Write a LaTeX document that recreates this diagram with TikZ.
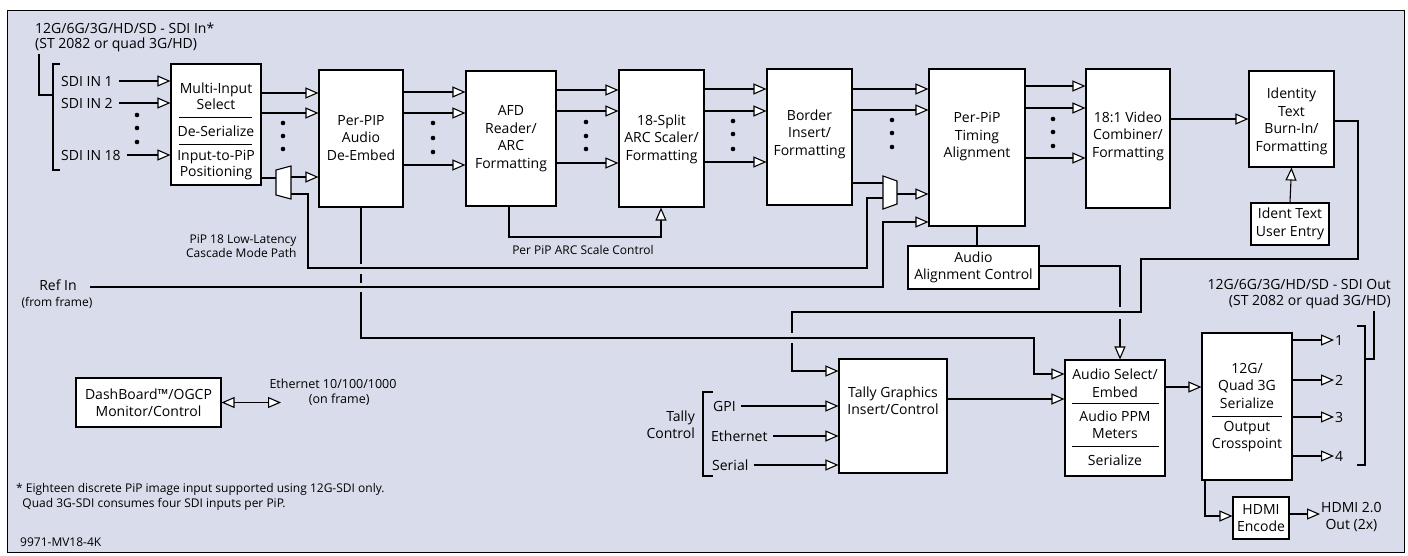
\documentclass[tikz,border=0pt]{standalone}
\usepackage{fontspec}
\setmainfont{Open Sans}
\usetikzlibrary{arrows.meta,positioning,calc}
\definecolor{bgc}{RGB}{217,220,234}
\newcommand{\fa}{\fontsize{14}{17.5}\selectfont}
\newcommand{\fb}{\fontsize{12}{14.5}\selectfont}
\tikzset{
  blk/.style={draw,fill=white,line width=1.1pt,inner sep=0pt},
  txt/.style={align=center,font=\fa,inner sep=1pt},
  lbl/.style={font=\fa,inner sep=2pt},
  arr/.style={line width=1.1pt,-{Triangle[length=13pt,width=11pt,fill=white]}},
  ln/.style={line width=1.1pt},
  sep/.style={line width=0.9pt},
}

\begin{document}
\begin{tikzpicture}[x=1pt,y=-1pt,font=\fa]
  \useasboundingbox (0,0) rectangle (1408,555);
  \draw[line width=1pt,fill=bgc] (7,10) rectangle (1404,552);

  % boxes
  \node[blk,minimum width=90pt,minimum height=121pt] (msel) at (216,124.5) {};
  \node[txt,font=\fontsize{14}{16}\selectfont] (mselA) at (216,96) {Multi-Input\\Select};
  \node[txt] (mselB) at (216,131) {De-Serialize};
  \node[txt,font=\fontsize{14}{16}\selectfont] (mselC) at (216,165) {Input-to-PiP\\Positioning};
  \draw[sep] (179,117) -- (252,117);
  \draw[sep] (179,144) -- (252,144);
  \node[blk,minimum width=84pt,minimum height=137pt] (ppip) at (361,138.5) {};
  \node[txt] (ppipT) at (361,138) {Per-PIP\\Audio\\De-Embed};
  \node[blk,minimum width=90pt,minimum height=135pt] (afd) at (511,138.5) {};
  \node[txt] (afdT) at (511,138.5) {AFD\\Reader/\\ARC\\Formatting};
  \node[blk,minimum width=85pt,minimum height=137pt] (split) at (661.5,138.5) {};
  \node[txt] (splitT) at (661.5,139) {18-Split\\ARC Scaler/\\Formatting};
  \node[blk,minimum width=85pt,minimum height=136pt] (border) at (809.5,137) {};
  \node[txt] (borderT) at (809.5,134) {Border\\Insert/\\Formatting};
  \node[blk,minimum width=96pt,minimum height=157pt] (timing) at (977,147.5) {};
  \node[txt] (timingT) at (977,137) {Per-PiP\\Timing\\Alignment};
  \node[blk,minimum width=84pt,minimum height=139pt] (comb) at (1128,138.5) {};
  \node[txt] (combT) at (1128,136) {18:1 Video\\Combiner/\\Formatting};
  \node[blk,minimum width=85pt,minimum height=96pt] (ident) at (1291.5,119) {};
  \node[txt] (identT) at (1291.5,121.5) {Identity\\Text\\Burn-In/\\Formatting};
  \node[blk,txt,minimum width=78pt,minimum height=42pt] (ientry) at (1290,224) {Ident Text\\User Entry};
  \node[blk,txt,minimum width=131pt,minimum height=43pt] (aalign) at (973.5,267.5) {Audio\\Alignment Control};
  \node[blk,minimum width=108pt,minimum height=114pt] (tally) at (893,416) {};
  \node[txt] (tallyT) at (893,400.5) {Tally Graphics\\Insert/Control};
  \node[blk,minimum width=100pt,minimum height=116pt] (asel) at (1115,418) {};
  \node[txt] (aselA) at (1115,383) {Audio Select/\\Embed};
  \node[txt] (aselB) at (1115,424.5) {Audio PPM\\Meters};
  \node[txt] (aselC) at (1115,460) {Serialize};
  \draw[sep] (1072,403) -- (1159,403);
  \draw[sep] (1072,446) -- (1159,446);
  \node[blk,minimum width=90pt,minimum height=147pt] (ser) at (1247,406.5) {};
  \node[txt] (serA) at (1247,385.5) {12G/\\Quad 3G\\Serialize};
  \node[txt] (serB) at (1247,436.5) {Output\\Crosspoint};
  \draw[sep] (1212,416) -- (1282,416);
  \node[blk,txt,minimum width=56pt,minimum height=42pt] (hdmi) at (1261,518) {HDMI\\Encode};
  \node[blk,txt,minimum width=145pt,minimum height=49pt] (dash) at (148.5,402.5) {DashBoard™/OGCP\\Monitor/Control};

  % muxes
  \draw[ln,fill=white] (276,170) -- (291,166) -- (291,199) -- (276,195) -- cycle;
  \draw[ln,fill=white] (883,176) -- (897,181) -- (897,204) -- (883,209) -- cycle;

  % sdi inputs
  \node[lbl,anchor=west,align=left,font=\fontsize{14}{15}\selectfont] (sdiin) at (33,37.5) {12G/6G/3G/HD/SD - SDI In*\\(ST 2082 or quad 3G/HD)};
  \draw[ln] (sdiin.south -| 39,0) -- (39,95) -- (53,95);
  \draw[ln] (60,64) -- (53,64) -- (53,170) -- (60,170);
  \node[lbl,anchor=west] (in1) at (59,81) {SDI IN 1};
  \node[lbl,anchor=west] (in2) at (59,103) {SDI IN 2};
  \node[lbl,anchor=west] (in18) at (59,155) {SDI IN 18};
  \draw[arr,shorten <=4pt] (in1.east) -- (msel.west |- in1.east);
  \draw[arr,shorten <=4pt] (in2.east) -- (msel.west |- in2.east);
  \draw[arr,shorten <=4pt] (in18.east) -- (msel.west |- in18.east);

  % dots
  \foreach \x/\a/\b/\c in {137/115/128/142, 283/123/136/149, 433/123/138/152,
      586/122/136/149, 733/121/134/149, 892/120/133/147, 1053/119/132/146}
    \foreach \y in {\a,\b,\c} \fill (\x,\y) circle (2.3pt);

  % video chain
  \foreach \y in {93,113} \draw[arr] (msel.east |- 0,\y) -- (ppip.west |- 0,\y);
  \draw[ln] (msel.east |- 0,178) -- (276,178);
  \draw[arr] (291,177) -- (ppip.west |- 0,177);
  \foreach \y in {92,113,165} \draw[arr] (ppip.east |- 0,\y) -- (afd.west |- 0,\y);
  \foreach \y in {90,111,163} \draw[arr] (afd.east |- 0,\y) -- (split.west |- 0,\y);
  \foreach \y in {89,111,162} \draw[arr] (split.east |- 0,\y) -- (border.west |- 0,\y);
  \foreach \y in {89,110} \draw[arr] (border.east |- 0,\y) -- (timing.west |- 0,\y);
  \draw[ln] (border.east |- 0,183) -- (883,183);
  \draw[arr] (897,194) -- (timing.west |- 0,194);
  \foreach \y in {86,108,158} \draw[arr] (timing.east |- 0,\y) -- (comb.west |- 0,\y);
  \draw[arr] (comb.east |- 0,119) -- (ident.west |- 0,119);
  \draw[arr] (ientry.north) -- (ident.south);
  \draw[arr] (afd.south -| 509,0) -- (509,237) -- (661,237) -- (split.south -| 661,0);
  \node[font=\fb] (arcctl) at (583,250) {Per PiP ARC Scale Control};
  \draw[ln] (timing.south) -- (aalign.north -| timing.south);

  % audio and tally paths (with hops)
  \draw[arr] (aalign.east |- 0,266) -- (1120,266) -- (asel.north -| 1120,0);
  \fill[bgc] (1116,307) rectangle (1125,319);
  \draw[arr] (ident.east |- 0,121) -- (1358,121) -- (1358,259) -- (1141,259) -- (1141,312)
    -- (792,312) -- (792,371) -- (tally.west |- 0,371);
  \fill[bgc] (788,333) rectangle (797,343);
  \draw[arr] (ppip.south) -- (ppip.south |- 0,338) -- (1034,338) -- (1034,374) -- (asel.west |- 0,374);
  \fill[bgc] (356,264) rectangle (366,274);
  \fill[bgc] (356,283) rectangle (366,292);

  % cascade and ref
  \draw[ln] (291,194) -- (308,194) -- (308,268) -- (867,268) -- (867,198) -- (883,198);
  \node[font=\fb,align=right,anchor=east] (casc) at (300,246) {PiP 18 Low-Latency\\Cascade Mode Path};
  \node[inner sep=1pt] (refin) at (58,285) {Ref In};
  \node[font=\fb,inner sep=1pt] (refsub) at (57,303) {(from frame)};
  \draw[arr] (90,287) -- (883,287) -- (883,222) -- (timing.west |- 0,222);

  % tally control inputs
  \node[lbl,align=right,anchor=east] (tctl) at (697,424.5) {Tally\\Control};
  \draw[ln] (713,392) -- (703,392) -- (703,476) -- (713,476);
  \node[lbl,anchor=west] (gpi) at (711,406) {GPI};
  \node[lbl,anchor=west] (eth) at (709,436) {Ethernet};
  \node[lbl,anchor=west] (serl) at (710,465) {Serial};
  \draw[arr,shorten <=3pt] (gpi.east) -- (tally.west |- gpi.east);
  \draw[arr,shorten <=3pt] (eth.east) -- (tally.west |- eth.east);
  \draw[arr,shorten <=3pt] (serl.east) -- (tally.west |- serl.east);
  \draw[arr] (tally.east |- 0,399) -- (asel.west |- 0,399);

  % outputs
  \draw[arr] (asel.east |- 0,387) -- (ser.west |- 0,387);
  \foreach \y/\n in {340/1,380/2,417/3,456/4} {
    \node[lbl,anchor=west,inner sep=1pt] (out\n) at (1334,\y) {\n};
    \draw[arr] (ser.east |- 0,\y) -- (out\n.west);
  }
  \draw[ln] (1357,326) -- (1365,326) -- (1365,465) -- (1357,465);
  \node[lbl,align=right,anchor=east,font=\fontsize{14}{16}\selectfont] (sdiout) at (1393,294) {12G/6G/3G/HD/SD - SDI Out\\(ST 2082 or quad 3G/HD)};
  \draw[ln] (1365,359) -- (1374,359) -- (sdiout.south -| 1374,0);
  \draw[arr] (ser.south -| 1205,0) -- (1205,516) -- (hdmi.west |- 0,516);
  \node[lbl,align=center,anchor=west,inner sep=1pt] (hdout) at (1320,517) {HDMI 2.0\\Out (2x)};
  \draw[arr] (hdmi.east |- 0,514) -- (hdout.west |- 0,514);

  % dashboard
  \node[font=\fontsize{12.5}{15}\selectfont,align=center] (ethf) at (333,392) {Ethernet 10/100/1000\\\quad(on frame)};
  \draw[ln,{Triangle[length=13pt,width=11pt,fill=white]}-{Triangle[length=13pt,width=11pt,fill=white]}] (dash.east) -- (281,402.5);

  % notes
  \node[font=\fb,anchor=west,align=left,inner sep=0pt] (note) at (16,497) {* Eighteen discrete PiP image input supported using 12G-SDI only.\\\ \ Quad 3G-SDI consumes four SDI inputs per PiP.};
  \node[font=\fb,anchor=west,inner sep=0pt] (dwg) at (20,542) {9971-MV18-4K};
\end{tikzpicture}
\end{document}
